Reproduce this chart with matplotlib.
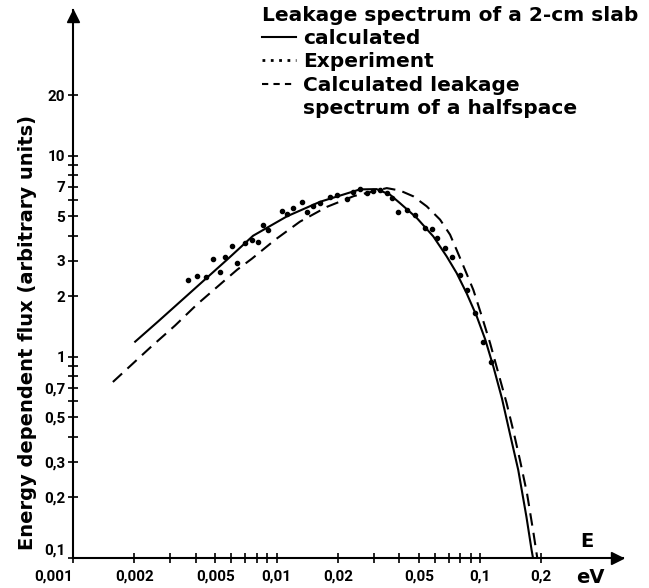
import matplotlib
matplotlib.use('Agg')
import matplotlib.pyplot as plt
from matplotlib.lines import Line2D
from matplotlib.ticker import FixedLocator, FixedFormatter, NullFormatter

plt.rcParams['font.family'] = ['DejaVu Sans']
plt.rcParams['font.weight'] = 'bold'

# calculated leakage spectrum, 2-cm slab
E_calc = [0.00202, 0.00262, 0.00344, 0.00450, 0.00571, 0.00767, 0.01127, 0.01636,
          0.0257, 0.0310, 0.0361, 0.0404, 0.0489, 0.0589, 0.0685, 0.0767,
          0.0859, 0.0963, 0.106, 0.1162, 0.128, 0.140, 0.154, 0.169, 0.179, 0.182]
F_calc = [1.19, 1.50, 1.92, 2.45, 3.04, 4.0, 5.0, 5.9,
          6.80, 6.82, 6.40, 5.81, 4.90, 3.97, 3.16, 2.61,
          2.07, 1.59, 1.22, 0.895, 0.623, 0.417, 0.274, 0.160, 0.110, 0.100]

# calculated leakage spectrum of a halfspace
E_half = [0.00157, 0.00239, 0.00317, 0.00406, 0.00546, 0.00640, 0.00758, 0.00984,
          0.01303, 0.0177, 0.0240, 0.0348, 0.0404, 0.0470, 0.0547, 0.0636, 0.0712,
          0.0767, 0.0843, 0.0927, 0.102, 0.112, 0.123, 0.135, 0.146, 0.157, 0.170,
          0.183, 0.191]
F_half = [0.75, 1.11, 1.43, 1.82, 2.36, 2.71, 3.08, 3.82,
          4.70, 5.57, 6.30, 6.90, 6.71, 6.28, 5.60, 4.81, 4.05,
          3.40, 2.71, 2.15, 1.59, 1.17, 0.829, 0.589, 0.425, 0.307, 0.210,
          0.133, 0.100]

# experiment
E_exp = [0.00367, 0.00406, 0.00451, 0.00488, 0.00528, 0.00558, 0.00604, 0.00640,
         0.00700, 0.00758, 0.00811, 0.00859, 0.00908, 0.01064, 0.01127, 0.01205,
         0.01334, 0.01412, 0.01511, 0.01636, 0.01832, 0.01983, 0.02219, 0.02376,
         0.02570, 0.02784, 0.02978, 0.03228, 0.03491, 0.03698, 0.03955, 0.04377,
         0.04797, 0.05370, 0.05809, 0.06150, 0.06731, 0.07280, 0.07971, 0.08630,
         0.09441, 0.1035, 0.1133]
F_exp = [2.42, 2.53, 2.50, 3.08, 2.65, 3.15, 3.56, 2.94,
         3.69, 3.82, 3.73, 4.54, 4.28, 5.32, 5.14, 5.51,
         5.90, 5.26, 5.64, 5.83, 6.25, 6.40, 6.11, 6.62,
         6.86, 6.55, 6.70, 6.78, 6.55, 6.18, 5.26, 5.39,
         5.08, 4.38, 4.33, 3.91, 3.48, 3.15, 2.56, 2.15,
         1.66, 1.19, 0.94]

x_major = [0.001, 0.002, 0.005, 0.01, 0.02, 0.05, 0.1, 0.2]
x_labels = ['0,001', '0,002', '0,005', '0,01', '0,02', '0,05', '0,1', '0,2']
x_minor = [0.003, 0.004, 0.006, 0.007, 0.008, 0.009,
           0.03, 0.04, 0.06, 0.07, 0.08, 0.09]
y_major = [0.1, 0.2, 0.3, 0.5, 0.7, 1, 2, 3, 5, 7, 10, 20]
y_labels = ['0,1', '0,2', '0,3', '0,5', '0,7', '1', '2', '3', '5', '7', '10', '20']
y_minor = [0.4, 0.6, 0.8, 0.9, 4, 6, 8, 9]

fig = plt.figure(figsize=(6.49, 5.88), dpi=100)
ax = fig.add_axes([0.1125, 0.051, 0.8475, 0.932])

ax.plot(E_calc, F_calc, 'k-', lw=1.5)
ax.plot(E_exp, F_exp, 'ko', ms=3, ls='none')
ax.plot(E_half, F_half, 'k-', lw=1.5, dashes=(6, 3.5))

ax.set_xscale('log')
ax.set_yscale('log')
ax.set_xlim(0.001, 0.504)
ax.set_ylim(0.1, 53)

ax.xaxis.set_major_locator(FixedLocator(x_major))
ax.xaxis.set_major_formatter(FixedFormatter(x_labels))
ax.xaxis.set_minor_locator(FixedLocator(x_minor))
ax.xaxis.set_minor_formatter(NullFormatter())
ax.yaxis.set_major_locator(FixedLocator(y_major))
ax.yaxis.set_major_formatter(FixedFormatter(y_labels))
ax.yaxis.set_minor_locator(FixedLocator(y_minor))
ax.yaxis.set_minor_formatter(NullFormatter())

ax.tick_params(which='both', direction='inout', length=7, width=1.2)
ax.tick_params(axis='x', pad=5)
ax.tick_params(axis='y', pad=2)
for t in ax.get_xticklabels() + ax.get_yticklabels():
    t.set_fontfamily('Roboto')
    t.set_fontweight('bold')
    t.set_fontsize(11)

for s in ['top', 'right']:
    ax.spines[s].set_visible(False)
for s in ['left', 'bottom']:
    ax.spines[s].set_linewidth(1.5)
ax.plot(0.989, 0, '>k', ms=9, transform=ax.transAxes, clip_on=False)
ax.plot(0, 0.989, '^k', ms=9, transform=ax.transAxes, clip_on=False)

xl = ax.get_xticklabels()
xl[0].set_horizontalalignment('right')
yl = ax.get_yticklabels()
yl[0].set_verticalalignment('bottom')

ax.set_ylabel('Energy dependent flux (arbitrary units)', fontsize=14, fontweight='bold')
ax.yaxis.set_label_coords(-0.066, 0.412)
ax.text(0.935, 0.031, 'E', transform=ax.transAxes, fontsize=14, ha='center', va='center')
ax.text(0.94, -0.035, 'eV', transform=ax.transAxes, fontsize=14, ha='center', va='center')

handles = [Line2D([], [], color='k', lw=1.5),
           Line2D([], [], color='k', lw=2, ls=(0, (1, 2))),
           Line2D([], [], color='k', lw=1.5, dashes=(3, 2.5)),
           Line2D([], [], color='none')]
labels = ['calculated', 'Experiment', 'Calculated leakage', 'spectrum of a halfspace']
leg = ax.legend(handles, labels, title='Leakage spectrum of a 2-cm slab',
                loc='upper left', bbox_to_anchor=(0.343, 1.008), frameon=False,
                fontsize=14.5, title_fontsize=14.5, alignment='left',
                handlelength=1.7, handletextpad=0.35, labelspacing=0.22,
                borderpad=0, borderaxespad=0)
leg.get_title().set_fontweight('bold')

fig.savefig('out.png', dpi=100)
